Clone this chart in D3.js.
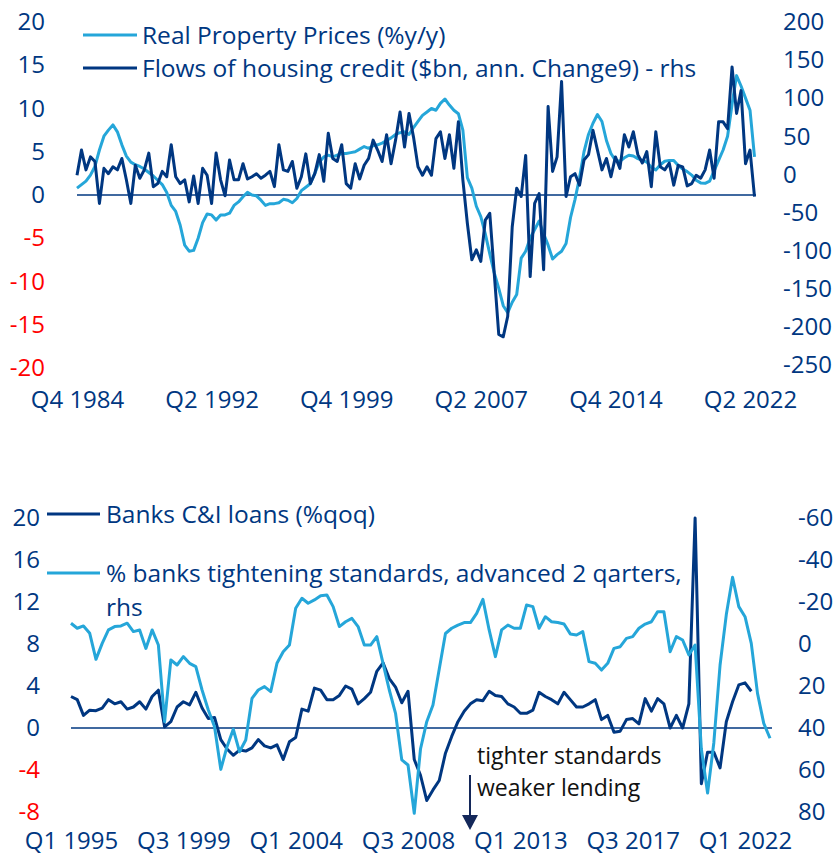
<!DOCTYPE html>
<html>
<head>
<meta charset="utf-8">
<script src="https://cdn.jsdelivr.net/npm/d3@7"></script>
<style>
  body { margin: 0; background: #fff; }
  svg text { font-family: "Open Sans", Lato, sans-serif; }
</style>
</head>
<body>
<script>
// ---- data ----
// top panel: quarterly, Q4 1984 .. Q3 2022
var propertyPrices = [
  0.8, 1.2, 1.6, 2.3, 3.3, 5.2, 6.8, 7.5, 8.1, 7.3,
  5.8, 4.5, 3.8, 3.5, 3.3, 3.0, 2.6, 2.2, 1.7, 1.2,
  0.3, -1.2, -1.9, -3.5, -5.8, -6.5, -6.4, -5.0, -3.2, -2.2,
  -2.3, -2.9, -2.3, -2.3, -2.1, -1.2, -0.8, -0.2, 0.3, 0.0,
  -0.1, -0.6, -1.2, -1.0, -1.0, -0.9, -0.5, -0.6, -0.9, -0.4,
  0.5, 0.9, 1.3, 2.5, 3.8, 4.4, 4.6, 4.4, 4.6, 4.8,
  4.8, 4.9, 5.0, 5.3, 5.6, 5.4, 5.7, 5.8, 6.0, 6.3,
  6.6, 7.0, 7.2, 7.3, 7.0, 7.8, 8.5, 9.2, 9.6, 10.0,
  9.8, 10.6, 11.1, 10.4, 9.8, 9.4, 7.5, 2.0, 0.8, -1.3,
  -2.5, -4.5, -6.8, -9.0, -10.8, -12.8, -13.6, -12.4, -11.5, -7.3,
  -6.5, -5.0, -4.0, -3.0, -4.5, -5.8, -7.4, -6.9, -6.5, -5.6,
  -2.6, -0.5, 2.0, 5.0, 7.0, 8.3, 9.3, 8.5, 6.3, 4.8,
  4.0, 3.9, 4.3, 4.6, 4.5, 4.2, 4.0, 3.8, 3.2, 2.9,
  3.5, 3.9, 4.0, 4.0, 3.4, 3.0, 2.7, 2.3, 1.7, 1.4,
  1.35, 1.6, 2.8, 4.0, 5.2, 6.8, 10.5, 13.8, 12.6, 11.2,
  9.8, 4.4
];
var housingCredit = [
  -1, 32, 6, 23, 17, -38, 8, 1, 10, 6,
  21, -7, -38, 12, -5, 6, 28, -16, -12, 4,
  -3, 39, -3, -12, -7, -36, -2, -38, 8, -1,
  -38, 28, -7, -28, 19, -7, -7, 14, -6, -3,
  1, -5, -1, 4, -16, 39, 6, 4, 17, -18,
  -3, 27, -12, 1, 26, -9, 54, 21, 17, 39,
  -12, -18, 14, -6, 12, 21, 45, 32, 17, 52,
  14, 45, 82, 36, 80, 49, 10, -1, 10, -1,
  47, 56, 21, 52, 8, 69, -7, -64, -112, -99,
  -114, -60, -51, -130, -210, -213, -186, -69, -18, -29,
  25, -134, -38, -25, -125, 89, 4, 23, 122, -29,
  -3, 1, -14, 19, 26, 58, 32, 6, 21, -3,
  23, 8, 52, 36, 56, 26, 15, 30, -16, 56,
  10, 6, 15, -14, 12, 10, -15, -12, -1, -5,
  6, 32, -5, 69, 69, 60, 141, 80, 110, 14,
  32, -29
];

// bottom panel: quarterly, Q1 1995 .. Q2 2022 (loans), .. Q1 2023 (standards, advanced)
var ciLoans = [
  3.0, 2.7, 1.2, 1.7, 1.65, 1.9, 2.7, 2.3, 2.5, 1.8,
  2.0, 2.5, 1.8, 3.0, 3.6, 0.1, 0.6, 2.0, 2.5, 2.2,
  3.4, 1.9, 0.9, 1.0, -1.1, -2.0, -2.6, -2.1, -2.2, -1.9,
  -1.1, -1.7, -1.9, -1.6, -3.0, -1.3, -0.9, 1.8, 1.6, 3.8,
  3.6, 2.7, 2.7, 3.1, 4.0, 3.7, 2.3, 2.8, 3.4, 5.4,
  6.2, 4.7, 3.9, 2.4, 3.5, -3.0, -4.5, -6.9, -5.9, -5.0,
  -2.4, -0.8, 0.6, 1.6, 2.3, 2.7, 2.6, 3.5, 3.1, 3.0,
  2.3, 2.0, 1.4, 1.4, 1.7, 3.4, 3.0, 2.7, 2.3, 3.4,
  2.7, 2.0, 2.0, 2.3, 2.7, 0.8, 1.2, -0.4, -0.3, 0.8,
  0.9, 0.4, 2.8, 1.6, 2.8, 2.3, 0.0, 1.2, 0.0, 2.3,
  20, -5.3, -2.3, -2.3, -3.8, 0.6, 2.5, 4.1, 4.3, 3.5
];
var tightening = [
  -9.9, -7.5, -8.6, -5.1, 7.3, -0.3, -6.7, -8.3, -8.6, -9.9,
  -5.9, -6.7, 2.1, -6.7, 0.5, 37, 7.6, 10, 6, 9.2,
  10.8, 21.9, 31.4, 39.4, 59.7, 48.9, 40.6, 51.3, 45.7, 25.9,
  21.9, 20.3, 22.7, 9.2, 3.7, 0.5, -17, -21.8, -19.4, -21,
  -23, -23.3, -17.8, -8.3, -10.6, -12.2, -8.3, 0.5, 0.5, -3.5,
  9.2, 21.9, 33, 55.2, 57.6, 80.6, 50, 37, 29, 12,
  -5, -7.5, -9, -10.2, -10.2, -14.6, -21.3, -6.7, 6, -6.7,
  -9, -7.5, -7.5, -18.6, -17.8, -7.5, -13, -10.6, -10.2, -9.5,
  -4.8, -4.3, -5.9, 8.4, 9.2, 12.4, 9.2, 2.1, 1.3, -2.7,
  -3.5, -7.5, -9.5, -10.6, -15.4, -15.4, 3.7, -3.5, -1.9, 5.2,
  0.5, 50, 71, 47, 10, -14, -31.8, -17.8, -13, -0.3,
  23.5, 37.8, 44.9
];

// tick labels
var topLeftTicks = [20, 15, 10, 5, 0, -5, -10, -15, -20];
var topRightTicks = [200, 150, 100, 50, 0, -50, -100, -150, -200, -250];
var topXTicks = ["Q4 1984", "Q2 1992", "Q4 1999", "Q2 2007", "Q4 2014", "Q2 2022"];
var botLeftTicks = [20, 16, 12, 8, 4, 0, -4, -8];
var botRightTicks = [-60, -40, -20, 0, 20, 40, 60, 80];
var botXTicks = ["Q1 1995", "Q3 1999", "Q1 2004", "Q3 2008", "Q1 2013", "Q3 2017", "Q1 2022"];

function quarters(year, q, n) {
  var out = [];
  for (var k = 0; k < n; k++) {
    out.push("Q" + q + " " + year);
    q++;
    if (q > 4) { q = 1; year++; }
  }
  return out;
}
var topQuarters = quarters(1984, 4, propertyPrices.length);
var botQuarters = quarters(1995, 1, tightening.length);

var DARK = "#003781", LIGHT = "#25a6d9", RED = "#ff0000";
var FS = 24;        // axis labels
var LEG_FS = 24.5;  // legend labels

var svg = d3.select("body").append("svg")
    .attr("width", 836).attr("height", 858);

function styleAxis(g, negRed) {
  g.select(".domain").remove();
  g.selectAll("text")
    .attr("font-size", FS)
    .attr("fill", function(d) { return (negRed && d < 0) ? RED : DARK; });
}

// ================= top panel =================
var x1 = d3.scalePoint().domain(topQuarters).range([77, 754.5]);
var yL1 = d3.scaleLinear().domain([-20, 20]).range([368, 22]);
var yR1 = d3.scaleLinear().domain([-250, 200]).range([365, 22]);

svg.append("g").attr("transform", "translate(47,0)")
  .call(d3.axisLeft(yL1).tickValues(topLeftTicks).tickSize(0).tickPadding(2).tickFormat(String))
  .call(styleAxis, true);
svg.append("g").attr("transform", "translate(781,0)")
  .call(d3.axisRight(yR1).tickValues(topRightTicks).tickSize(0).tickPadding(2).tickFormat(String))
  .call(styleAxis, false);
svg.append("g").attr("transform", "translate(0,391)")
  .call(d3.axisBottom(x1).tickValues(topXTicks).tickSize(0).tickPadding(0))
  .call(styleAxis, false);

svg.append("line")
  .attr("x1", 77).attr("x2", 756)
  .attr("y1", yL1(0)).attr("y2", yL1(0))
  .attr("stroke", DARK).attr("stroke-width", 1.5);

svg.append("path").datum(propertyPrices)
  .attr("fill", "none").attr("stroke", LIGHT).attr("stroke-width", 3)
  .attr("stroke-linejoin", "round")
  .attr("d", d3.line().x(function(d, i) { return x1(topQuarters[i]); }).y(function(d) { return yL1(d); }));
svg.append("path").datum(housingCredit)
  .attr("fill", "none").attr("stroke", DARK).attr("stroke-width", 3)
  .attr("stroke-linejoin", "round")
  .attr("d", d3.line().x(function(d, i) { return x1(topQuarters[i]); }).y(function(d) { return yR1(d); }));

var topLegend = [
  { label: "Real Property Prices (%y/y)", color: LIGHT, y: 35 },
  { label: "Flows of housing credit ($bn, ann. Change9) - rhs", color: DARK, y: 68 }
];
topLegend.forEach(function(l) {
  svg.append("line").attr("x1", 83).attr("x2", 137).attr("y1", l.y).attr("y2", l.y)
    .attr("stroke", l.color).attr("stroke-width", 3);
  svg.append("text").attr("x", 142).attr("y", l.y).attr("dy", "0.35em")
    .attr("font-size", LEG_FS).attr("fill", DARK).text(l.label);
});

// ================= bottom panel =================
var x2 = d3.scalePoint().domain(botQuarters).range([71, 770]);
var yL2 = d3.scaleLinear().domain([-8, 20]).range([812, 518]);
var yR2 = d3.scaleLinear().domain([-60, 80]).range([518, 812]);

svg.append("g").attr("transform", "translate(42,0)")
  .call(d3.axisLeft(yL2).tickValues(botLeftTicks).tickSize(0).tickPadding(2).tickFormat(String))
  .call(styleAxis, true);
svg.append("g").attr("transform", "translate(796,0)")
  .call(d3.axisRight(yR2).tickValues(botRightTicks).tickSize(0).tickPadding(2).tickFormat(String))
  .call(styleAxis, false);
svg.append("g").attr("transform", "translate(0,832)")
  .call(d3.axisBottom(x2).tickValues(botXTicks).tickSize(0).tickPadding(0))
  .call(styleAxis, false);

svg.append("line")
  .attr("x1", 71).attr("x2", 772)
  .attr("y1", yL2(0)).attr("y2", yL2(0))
  .attr("stroke", DARK).attr("stroke-width", 1.5);

svg.append("path").datum(ciLoans)
  .attr("fill", "none").attr("stroke", DARK).attr("stroke-width", 3)
  .attr("stroke-linejoin", "round")
  .attr("d", d3.line().x(function(d, i) { return x2(botQuarters[i]); }).y(function(d) { return yL2(d); }));
svg.append("path").datum(tightening)
  .attr("fill", "none").attr("stroke", LIGHT).attr("stroke-width", 3)
  .attr("stroke-linejoin", "round")
  .attr("d", d3.line().x(function(d, i) { return x2(botQuarters[i]); }).y(function(d) { return yR2(d); }));

var botLegend = [
  { label: "Banks C&I loans (%qoq)", color: DARK, y: 514 },
  { label: "% banks tightening standards, advanced 2 qarters,", color: LIGHT, y: 573 }
];
botLegend.forEach(function(l) {
  svg.append("line").attr("x1", 47).attr("x2", 100).attr("y1", l.y).attr("y2", l.y)
    .attr("stroke", l.color).attr("stroke-width", 3);
  svg.append("text").attr("x", 106).attr("y", l.y).attr("dy", "0.35em")
    .attr("font-size", LEG_FS).attr("fill", DARK).text(l.label);
});
svg.append("text").attr("x", 106).attr("y", 607).attr("dy", "0.35em")
  .attr("font-size", LEG_FS).attr("fill", DARK).text("rhs");

// annotation
svg.append("text").attr("x", 477).attr("y", 764)
  .attr("font-family", "'Liberation Sans', Arial, sans-serif")
  .attr("font-size", 23).attr("fill", "#111").text("tighter standards");
svg.append("text").attr("x", 477).attr("y", 796)
  .attr("font-family", "'Liberation Sans', Arial, sans-serif")
  .attr("font-size", 23).attr("fill", "#111").text("weaker lending");
svg.append("line").attr("x1", 470).attr("x2", 470).attr("y1", 775).attr("y2", 818)
  .attr("stroke", "#14285a").attr("stroke-width", 2);
svg.append("path").attr("d", "M462,815 L478,815 L470,830 Z").attr("fill", "#14285a");
</script>
</body>
</html>
